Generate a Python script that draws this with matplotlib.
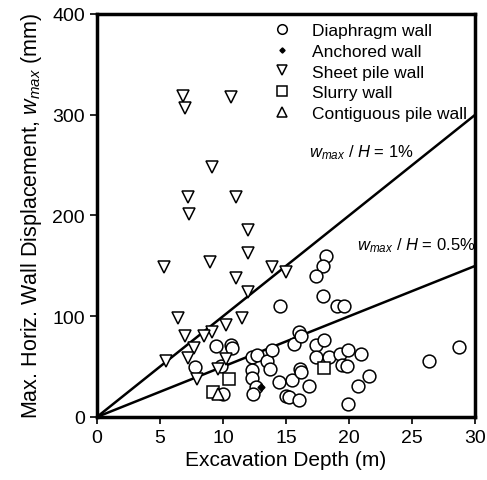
import numpy as np
import matplotlib.pyplot as plt

plt.rcParams['font.family'] = ['Liberation Sans', 'DejaVu Sans']
plt.rcParams['mathtext.fontset'] = 'custom'
plt.rcParams['mathtext.rm'] = 'Liberation Sans'
plt.rcParams['mathtext.it'] = 'Liberation Sans:italic'

# excavation depth H (m), max. wall displacement w_max (mm)
diaphragm_H = [7.8, 9.45, 9.8, 10.0, 10.6, 10.7, 12.3, 12.7, 12.3, 12.3, 12.6, 12.4,
               13.5, 13.7, 13.9, 14.4, 14.5, 15.0, 15.2, 16.0, 15.5, 16.1, 16.2, 16.8,
               15.6, 16.0, 16.2, 17.4, 18.0, 17.4, 18.4, 19.3, 19.9, 19.4, 19.8, 20.9,
               21.6, 20.7, 19.9, 26.3, 28.7, 18.2, 17.9, 17.4, 17.9, 19.0, 19.6]
diaphragm_w = [50, 70, 51, 23, 71, 68, 60, 62, 47, 39, 30, 22.5,
               56, 48, 66, 35, 110, 21, 20, 17, 36.5, 48, 45, 31,
               72, 84, 80, 71, 76, 60, 60, 62.5, 66, 52, 51, 62.5,
               41, 30.5, 13, 55.5, 69.5, 160, 150, 140, 120, 110.5, 110.5]

anchored_H = [13.0]
anchored_w = [29.5]

sheet_H = [6.85, 7.0, 10.6, 9.1, 7.2, 11.0, 7.3, 12.0, 12.0, 5.3, 9.0, 11.0, 13.9, 15.0,
           12.0, 6.4, 11.5, 10.2, 9.1, 8.5, 7.0, 7.7, 7.25, 5.5, 10.2, 9.6, 7.9]
sheet_w = [319, 307, 318, 248, 218, 218, 201, 186, 163, 149, 154, 138, 149, 144,
           124, 98, 98, 91, 84, 80, 80, 68, 59, 56, 58, 48, 38]

slurry_H = [10.5, 9.2, 18.0]
slurry_w = [38, 25, 49]

contiguous_H = [9.6]
contiguous_w = [23]

ratios = [0.01, 0.005]

fig = plt.figure(figsize=(4.87, 4.81), dpi=100)
ax = fig.add_axes([0.199, 0.131, 0.777, 0.838])

H = np.array([0, 30])
for r in ratios:
    ax.plot(H, H * r * 1000, c='black', lw=1.8, zorder=1)

mk = dict(ls='none', mfc='white', mec='black', mew=1.1, ms=9.2)
ax.plot(diaphragm_H, diaphragm_w, marker='o', label='Diaphragm wall', **mk)
ax.plot(anchored_H, anchored_w, marker='D', ls='none', c='black', ms=3.5,
        label='Anchored wall', zorder=4)
ax.plot(sheet_H, sheet_w, marker='v', label='Sheet pile wall', **mk)
ax.plot(slurry_H, slurry_w, marker='s', label='Slurry wall', **mk)
ax.plot(contiguous_H, contiguous_w, marker='^', label='Contiguous pile wall', **mk)

ax.text(16.8, 259, r'$w_{max}$ / $H$ = 1%', fontsize=12)
ax.text(20.6, 166, r'$w_{max}$ / $H$ = 0.5%', fontsize=12)

ax.set_xlim(0, 30)
ax.set_ylim(0, 400)
ax.set_xticks(np.arange(0, 31, 5))
ax.set_yticks(np.arange(0, 401, 100))
ax.set_xlabel('Excavation Depth (m)', fontsize=15, labelpad=3)
ax.set_ylabel(r'Max. Horiz. Wall Displacement, $w_{max}$ (mm)', fontsize=15.5,
              labelpad=6)
ax.tick_params(direction='out', length=5, width=1.2, labelsize=14)
for sp in ax.spines.values():
    sp.set_linewidth(2.5)

ax.legend(loc='upper right', frameon=False, fontsize=12.5, handletextpad=1.3,
          labelspacing=0.33, borderaxespad=0.1, borderpad=0.4, handlelength=0.8,
          markerscale=0.75, bbox_to_anchor=(1.0, 1.0))

plt.savefig('out.png', dpi=100)
